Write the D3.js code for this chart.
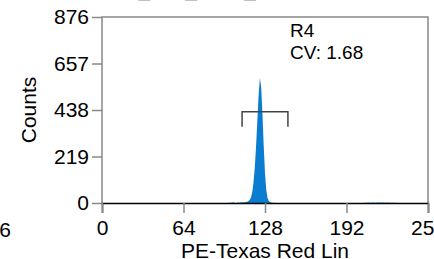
<!DOCTYPE html>
<html>
<head>
<meta charset="utf-8">
<script src="https://cdn.jsdelivr.net/npm/d3@7"></script>
<style>
  html, body { margin: 0; padding: 0; background: #fff; }
  svg { display: block; font-family: "Liberation Sans", Arial, sans-serif; }
</style>
</head>
<body>
<script>
// histogram counts, main peak starting at channel 98
var peakStart = 98;
var peakCounts = [0, 1, 0, 2, 1, 3, 1, 0, 1, 2, 1, 2, 3, 2, 4, 5, 6, 9, 14, 26, 52, 98, 170, 270, 390, 510, 589, 545, 420, 268, 140, 62, 24, 9, 4, 2, 1, 1, 0];
// faint events at high channels, starting at channel 205
var tailStart = 205;
var tailCounts = [0, 2, 1, 3, 2, 4, 2, 3, 5, 3, 2, 4, 6, 4, 3, 5, 3, 2, 4, 3, 2, 3, 1, 2, 3, 1, 2, 1, 0];

var xTicks = [0, 64, 128, 192, 256];
var yTicks = [0, 219, 438, 657, 876];
var xLabel = 'PE-Texas Red Lin';
var yLabel = 'Counts';
var region = { name: 'R4', cv: 1.68, from: 110, to: 146, level: 430 };

var W = 434, H = 259;
var svg = d3.select('body').append('svg').attr('width', W).attr('height', H);

var x = d3.scaleLinear().domain([0, 256]).range([102, 428]);
var y = d3.scaleLinear().domain([0, 876]).range([203, 17]);

function toBins(start, counts) {
    return counts.map(function(c, i) { return { ch: start + i, n: c }; });
}

var area = d3.area()
    .x(function(d) { return x(d.ch); })
    .y0(y(0))
    .y1(function(d) { return y(d.n); });

// cut-off title from the panel above
svg.append('text')
    .attr('x', 245).attr('y', -4)
    .attr('text-anchor', 'middle')
    .style('font-size', '21px')
    .text('Specimen_001_Tube_001 (PE-Texas Red)');

// frame
svg.append('path')
    .attr('d', 'M' + x(0) + ',' + y(0) + 'V' + y(876) + 'H' + x(256) + 'V' + y(0))
    .attr('fill', 'none').attr('stroke', '#888').attr('stroke-width', 1.5);

// histogram
svg.append('path').datum(toBins(peakStart, peakCounts))
    .attr('d', area).attr('fill', '#0a7dd0');
svg.append('path').datum(toBins(tailStart, tailCounts))
    .attr('d', area).attr('fill', '#0a7dd0').attr('opacity', 0.5);

// axes
var yAxis = svg.append('g')
    .attr('transform', 'translate(' + x(0) + ',0)')
    .call(d3.axisLeft(y).tickValues(yTicks).tickSize(10).tickPadding(3));
yAxis.select('.domain').remove();
yAxis.selectAll('line').attr('stroke', '#888').attr('stroke-width', 1.5);
yAxis.selectAll('text').style('font-size', '21px').attr('fill', '#000');
yAxis.attr('font-family', null);

var xAxis = svg.append('g')
    .attr('transform', 'translate(0,' + y(0) + ')')
    .call(d3.axisBottom(x).tickValues(xTicks).tickSize(10).tickPadding(7));
xAxis.select('.domain').attr('stroke', '#000').attr('stroke-width', 1.5);
xAxis.selectAll('line').attr('stroke', '#888').attr('stroke-width', 1.5);
xAxis.selectAll('text').style('font-size', '21px').attr('fill', '#000');
xAxis.attr('font-family', null);

// tick label of neighbouring panel on the left
svg.append('text')
    .attr('x', 11).attr('y', y(0) + 34)
    .attr('text-anchor', 'end')
    .style('font-size', '21px')
    .text('256');

// axis titles
svg.append('text')
    .attr('x', 265).attr('y', 258)
    .attr('text-anchor', 'middle')
    .style('font-size', '21px')
    .text(xLabel);

svg.append('text')
    .attr('transform', 'translate(36,110) rotate(-90)')
    .attr('text-anchor', 'middle')
    .style('font-size', '21px')
    .text(yLabel);

// region bracket
var ry = y(region.level);
svg.append('path')
    .attr('d', 'M' + x(region.from) + ',' + (ry + 15) + 'V' + ry + 'H' + x(region.to) + 'V' + (ry + 15))
    .attr('fill', 'none').attr('stroke', '#444').attr('stroke-width', 1.5);

svg.append('text')
    .attr('x', 290).attr('y', 37)
    .style('font-size', '19px')
    .text(region.name);
svg.append('text')
    .attr('x', 290).attr('y', 59)
    .style('font-size', '19px')
    .text('CV: ' + region.cv.toFixed(2));
</script>
</body>
</html>
